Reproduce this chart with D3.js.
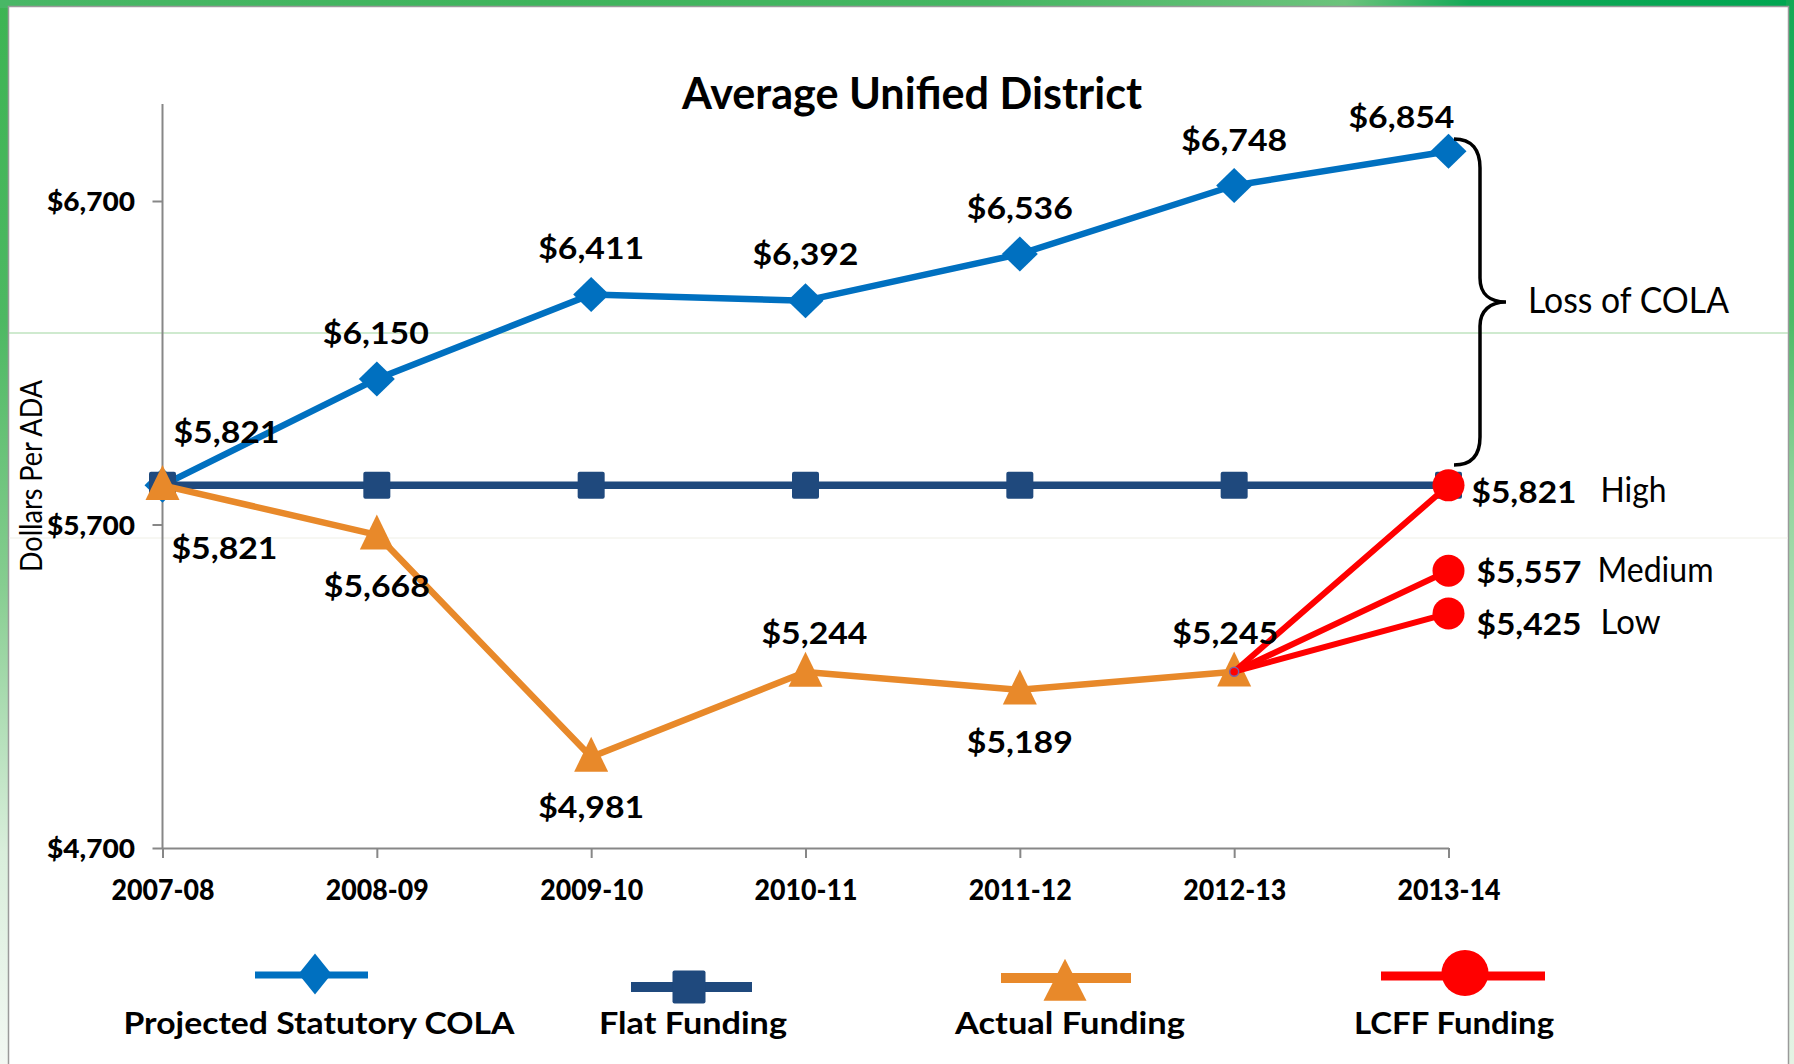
<!DOCTYPE html>
<html><head><meta charset="utf-8">
<script src="https://cdn.jsdelivr.net/npm/d3@7"></script>
<style>
html,body{margin:0;padding:0;background:#fff;overflow:hidden;}
svg{display:block;}
text{font-family:Lato,"Open Sans",sans-serif;fill:#000;}
</style></head><body>
<svg id="chart" width="1794" height="1064"></svg>
<script>
// ---------------- DATA ----------------
const categories = ["2007-08","2008-09","2009-10","2010-11","2011-12","2012-13","2013-14"];
const colaValues = [5821,6150,6411,6392,6536,6748,6854];
const flatValues = [5821,5821,5821,5821,5821,5821,5821];
const actualValues = [5821,5668,4981,5244,5189,5245,null];
const lcffStartCategory = "2012-13";
const lcffEndCategory = "2013-14";
const lcffStartValue = 5245;
const lcffScenarios = ["High","Medium","Low"];
const lcffValues = [5821,5557,5425];
const yTickValues = [4700,5700,6700];
const yDomain = [4700,7000];
const seriesNames = ["Projected Statutory COLA","Flat Funding","Actual Funding","LCFF Funding"];
const titleText = "Average Unified District";
const yAxisTitle = "Dollars Per ADA";
const braceNote = "Loss of COLA";

// ---------------- STYLE / LAYOUT ----------------
const colors = {cola:"#0070C0", flat:"#1F497D", actual:"#E8892A", lcff:"#FF0000", axis:"#878787"};
const colaLabelOffsets  = [[64,-53],[-1,-46],[0,-46],[0,-46],[0,-46],[0,-45],[-47,-34]];
const actualLabelOffsets = [[62,63],[0,51],[0,50],[9,-39],[0,52],[-9,-38],null];
const lcffLabelDy = [18,12,22];

const fmt = v => "$" + d3.format(",")(v);
const svg = d3.select("#chart");
const defs = svg.append("defs");

// ---------------- SLIDE FRAME ----------------
function grad(id, x2, y2, stops){
  const g = defs.append("linearGradient").attr("id",id).attr("x1",0).attr("y1",0).attr("x2",x2).attr("y2",y2);
  stops.forEach(s => g.append("stop").attr("offset",s[0]).attr("stop-color",s[1]));
}
grad("leftG",0,1,[[0,"#3db453"],[0.3,"#4db862"],[0.55,"#86cd90"],[0.8,"#d9eedb"],[1,"#f3f8f3"]]);
grad("topG",1,0,[[0,"#49b766"],[0.3,"#3fb45c"],[0.55,"#45b662"],[0.75,"#6cc37c"],[0.82,"#13a957"],[1,"#00a651"]]);
grad("rightG",0,1,[[0,"#12a955"],[0.3,"#4cbb66"],[0.45,"#8fd39a"],[0.7,"#cbe9cd"],[1,"#e4f3e4"]]);
svg.append("rect").attr("x",0).attr("y",0).attr("width",1794).attr("height",1064).attr("fill","url(#leftG)");
svg.append("rect").attr("x",0).attr("y",0).attr("width",1794).attr("height",8).attr("fill","url(#topG)");
svg.append("rect").attr("x",1786).attr("y",0).attr("width",8).attr("height",1064).attr("fill","url(#rightG)");
svg.append("rect").attr("x",8.5).attr("y",6.5).attr("width",1780).attr("height",1070)
   .attr("fill","#fff").attr("stroke","#9a9a9a").attr("stroke-width",1.5);
// faint slide artefact lines
svg.append("line").attr("x1",9).attr("x2",1788).attr("y1",333).attr("y2",333).attr("stroke","#9fd59f").attr("stroke-width",1.2);
svg.append("line").attr("x1",9).attr("x2",1788).attr("y1",538).attr("y2",538).attr("stroke","#efefe6").attr("stroke-width",1);

// ---------------- SCALES ----------------
const x = d3.scalePoint().domain(categories).range([162.5,1448.5]);
const pxPer = 0.3235;
const y = d3.scaleLinear().domain(yDomain).range([848, 848 - (yDomain[1]-yDomain[0])*pxPer]);

// ---------------- AXES ----------------
const yAx = svg.append("g").attr("transform","translate(162.5,0)")
  .call(d3.axisLeft(y).tickValues(yTickValues).tickSize(10).tickSizeOuter(0).tickPadding(17.5).tickFormat(fmt));
const xAx = svg.append("g").attr("transform","translate(0,848)")
  .call(d3.axisBottom(x).tickSize(10).tickSizeOuter(0));
[yAx,xAx].forEach(g=>{
  g.select(".domain").attr("stroke",colors.axis).attr("stroke-width",2);
  g.selectAll(".tick line").attr("stroke",colors.axis).attr("stroke-width",2);
});
yAx.selectAll(".tick text").attr("font-family","Lato").attr("font-weight","900").attr("font-size",27)
  .attr("fill","#000").attr("dy","0.36em").attr("textLength",88).attr("lengthAdjust","spacingAndGlyphs");
xAx.selectAll(".tick text").attr("font-family","Lato").attr("font-weight","900").attr("font-size",28.5)
  .attr("fill","#000").attr("y",52).attr("dy",0).attr("textLength",103).attr("lengthAdjust","spacingAndGlyphs");
yAx.select(".domain").attr("d","M0,848V104");

// Title
svg.append("text").attr("x",912).attr("y",109).attr("text-anchor","middle")
  .attr("font-weight","bold").attr("font-size",43).attr("textLength",460).attr("lengthAdjust","spacingAndGlyphs")
  .text(titleText);
// Y title
svg.append("text").attr("transform","translate(42,476) rotate(-90)").attr("text-anchor","middle")
  .attr("font-size",31).attr("textLength",192).attr("lengthAdjust","spacingAndGlyphs").text(yAxisTitle);

// ---------------- MARKERS ----------------
const shapes = {
  diamond:(g,w,h)=>g.append("path").attr("d",`M0,${-h/2}L${w/2},0L0,${h/2}L${-w/2},0Z`),
  square:(g,w,h)=>g.append("rect").attr("x",-w/2).attr("y",-h/2).attr("width",w).attr("height",h).attr("rx",2),
  triangle:(g,w,h)=>g.append("path").attr("d",`M0,${-h*0.58}L${w/2},${h*0.42}L${-w/2},${h*0.42}Z`),
  circle:(g,w,h)=>g.append("ellipse").attr("rx",w/2).attr("ry",h/2)
};

const line = d3.line().defined(d=>d.v!=null).x(d=>x(d.c)).y(d=>y(d.v));
function series(values, color, width, shape, mw, mh){
  const data = categories.map((c,i)=>({c, v:values[i]}));
  svg.append("path").datum(data).attr("d",line).attr("fill","none").attr("stroke",color)
    .attr("stroke-width",width).attr("stroke-linejoin","round");
  data.filter(d=>d.v!=null).forEach(d=>{
    const g = svg.append("g").attr("transform",`translate(${x(d.c)},${y(d.v)})`);
    shapes[shape](g,mw,mh).attr("fill",color);
  });
}
series(colaValues, colors.cola, 6.5, "diamond", 36, 35);
series(flatValues, colors.flat, 7.5, "square", 27, 27);
series(actualValues, colors.actual, 6.5, "triangle", 34, 35);

// LCFF scenarios
lcffValues.forEach((v,i)=>{
  const data=[{c:lcffStartCategory,v:lcffStartValue},{c:lcffEndCategory,v}];
  svg.append("path").datum(data).attr("d",line).attr("fill","none").attr("stroke",colors.lcff)
    .attr("stroke-width",6).attr("stroke-linecap","round");
});
svg.append("circle").attr("cx",x(lcffStartCategory)).attr("cy",y(lcffStartValue)).attr("r",4.5)
  .attr("fill",colors.lcff).attr("stroke","#7a62a8").attr("stroke-width",1.5);
lcffValues.forEach((v,i)=>{
  const g = svg.append("g").attr("transform",`translate(${x(lcffEndCategory)},${y(v)})`);
  shapes.circle(g,32,32).attr("fill",colors.lcff);
});

// ---------------- DATA LABELS ----------------
function labels(values, offsets){
  values.forEach((v,i)=>{
    if(v==null||!offsets[i]) return;
    svg.append("text").attr("x",x(categories[i])+offsets[i][0]).attr("y",y(v)+offsets[i][1])
      .attr("dy","0.36em").attr("text-anchor","middle").attr("font-weight","bold").attr("font-size",30)
      .attr("textLength",106).attr("lengthAdjust","spacingAndGlyphs").text(fmt(v));
  });
}
labels(colaValues, colaLabelOffsets);
labels(actualValues, actualLabelOffsets);

const scenarioWidths=[66,116,60];
lcffValues.forEach((v,i)=>{
  const by = y(v)+lcffLabelDy[i];
  svg.append("text").attr("x",x(lcffEndCategory)+(i===0?23:28)).attr("y",by)
    .attr("font-weight","bold").attr("font-size",31).attr("textLength",105).attr("lengthAdjust","spacingAndGlyphs").text(fmt(v));
  svg.append("text").attr("x",x(lcffEndCategory)+(i===1?149:152)).attr("y",by-1)
    .attr("font-size",35).attr("textLength",scenarioWidths[i]).attr("lengthAdjust","spacingAndGlyphs").text(lcffScenarios[i]);
});

// ---------------- BRACE ----------------
svg.append("path")
  .attr("d","M1454,139 C1472,139 1480,150 1480,168 L1480,278 C1480,294 1490,302 1506,302 C1490,302 1480,311 1480,326 L1480,437 C1480,455 1472,465 1454,465")
  .attr("fill","none").attr("stroke","#000").attr("stroke-width",3.5);
svg.append("text").attr("x",1528).attr("y",313).attr("font-size",37)
  .attr("textLength",201).attr("lengthAdjust","spacingAndGlyphs").text(braceNote);

// ---------------- LEGEND ----------------
const legendItems = [
  {name:seriesNames[0], color:colors.cola,   shape:"diamond",  lx:[255,368],  ly:975, mx:315,  my:974, mw:33, mh:41, lw:7,  tx:319,  tw:391},
  {name:seriesNames[1], color:colors.flat,   shape:"square",   lx:[631,752],  ly:987, mx:689,  my:987, mw:33, mh:33, lw:10, tx:693,  tw:188},
  {name:seriesNames[2], color:colors.actual, shape:"triangle", lx:[1001,1131],ly:978, mx:1065, my:983, mw:43, mh:42, lw:10, tx:1070, tw:230},
  {name:seriesNames[3], color:colors.lcff,   shape:"circle",   lx:[1381,1545],ly:976, mx:1465, my:973, mw:47, mh:46, lw:9,  tx:1454, tw:200}
];
legendItems.forEach(it=>{
  svg.append("line").attr("x1",it.lx[0]).attr("x2",it.lx[1]).attr("y1",it.ly).attr("y2",it.ly)
    .attr("stroke",it.color).attr("stroke-width",it.lw);
  const g = svg.append("g").attr("transform",`translate(${it.mx},${it.my})`);
  shapes[it.shape](g,it.mw,it.mh).attr("fill",it.color);
  svg.append("text").attr("x",it.tx).attr("y",1034).attr("text-anchor","middle").attr("font-weight","bold")
    .attr("font-size",31).attr("textLength",it.tw).attr("lengthAdjust","spacingAndGlyphs").text(it.name);
});
</script>
</body></html>
